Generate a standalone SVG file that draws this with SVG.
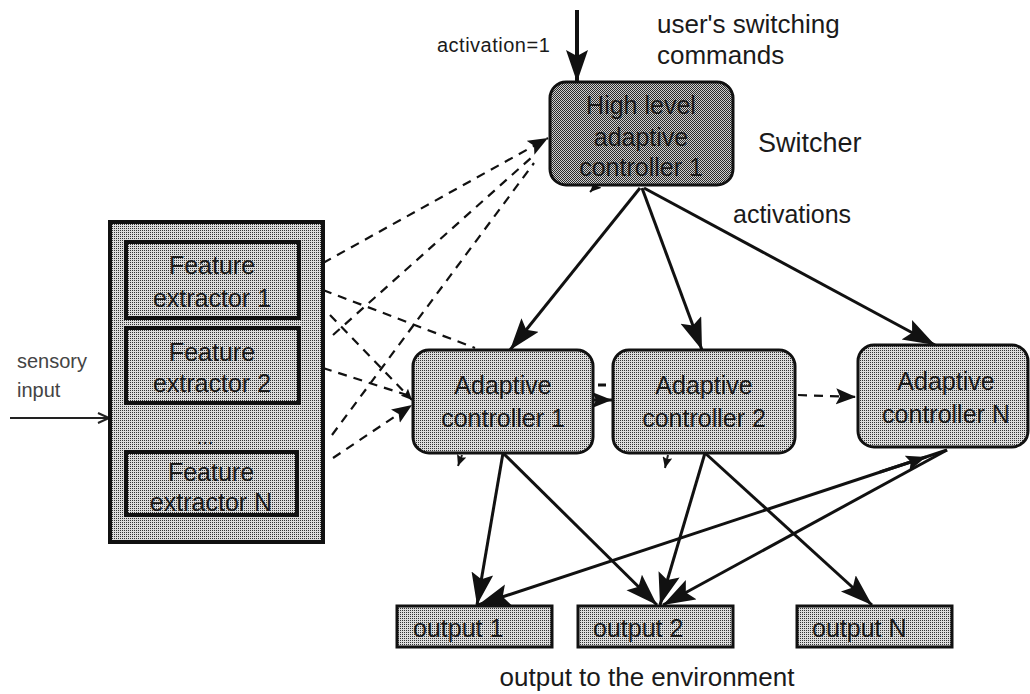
<svg xmlns="http://www.w3.org/2000/svg" width="1030" height="694" viewBox="0 0 1030 694">
<defs>
<style>
text{font-family:"Liberation Sans",Arial,sans-serif;fill:#1a1a1a}
.lbl{font-size:25px;text-anchor:middle}
.box{fill:url(#lt);stroke:#111;stroke-width:3}
.fe{fill:url(#lt);stroke:#111;stroke-width:4}
.solid{fill:none;stroke:#111;stroke-width:3}
.dash{fill:none;stroke:#111;stroke-width:2.2;stroke-dasharray:9 7}
.thin{fill:none;stroke:#222;stroke-width:2}
</style>
<pattern id="lt" width="2" height="2" patternUnits="userSpaceOnUse"><rect width="2" height="2" fill="#dcdcdc"/><rect width="1" height="1" fill="#333"/></pattern>
<pattern id="dk" width="2" height="2" patternUnits="userSpaceOnUse"><rect width="2" height="2" fill="#cfcfcf"/><rect width="1" height="1" fill="#2a2a2a"/><rect x="1" y="1" width="1" height="1" fill="#2a2a2a"/></pattern>
<marker id="big" markerUnits="userSpaceOnUse" markerWidth="34" markerHeight="24" refX="32" refY="11" orient="auto"><path d="M0,0 L32,11 L0,22 L6,11 z" fill="#111"/></marker>
<marker id="mid" markerUnits="userSpaceOnUse" markerWidth="22" markerHeight="18" refX="20" refY="8" orient="auto"><path d="M0,0 L20,8 L0,16 L4,8 z" fill="#111"/></marker>
<marker id="sm" markerUnits="userSpaceOnUse" markerWidth="12" markerHeight="10" refX="11" refY="5" orient="auto"><path d="M0,0 L11,5 L0,10 L2,5 z" fill="#111"/></marker>
<marker id="open" markerUnits="userSpaceOnUse" markerWidth="14" markerHeight="12" refX="12" refY="6" orient="auto"><path d="M1,1 L12,6 L1,11" fill="none" stroke="#222" stroke-width="2"/></marker>
</defs>
<rect width="1030" height="694" fill="#fff"/>

<g id="connectors">
<line x1="577" y1="10" x2="577" y2="82" stroke="#111" stroke-width="4" marker-end="url(#big)"/>
<line x1="10" y1="418" x2="109" y2="418" class="thin" marker-end="url(#open)"/>
<line x1="640" y1="188" x2="510" y2="350" class="solid" marker-end="url(#big)"/>
<line x1="642" y1="188" x2="702" y2="350" class="solid" marker-end="url(#big)"/>
<line x1="644" y1="188" x2="935" y2="345" class="solid" marker-end="url(#big)"/>
<line x1="503" y1="453" x2="477" y2="605" class="solid" marker-end="url(#big)"/>
<line x1="503" y1="453" x2="657" y2="605" class="solid" marker-end="url(#big)"/>
<line x1="705" y1="453" x2="660" y2="605" class="solid" marker-end="url(#big)"/>
<line x1="705" y1="453" x2="872" y2="605" class="solid" marker-end="url(#big)"/>
<line x1="947" y1="450" x2="478" y2="605" class="solid" marker-end="url(#big)"/>
<line x1="947" y1="450" x2="663" y2="605" class="solid" marker-end="url(#big)"/>
<line x1="880" y1="472" x2="926" y2="457" class="solid" marker-end="url(#mid)"/>
<line x1="593" y1="400" x2="612" y2="400" class="solid" marker-end="url(#mid)"/>
<line x1="598" y1="385" x2="606" y2="385" class="solid"/>
<line x1="798" y1="395" x2="856" y2="397" class="dash" marker-end="url(#mid)"/>
<line x1="323" y1="263" x2="548" y2="138" class="dash" marker-end="url(#mid)"/>
<line x1="333" y1="335" x2="532" y2="157" class="dash"/>
<line x1="332" y1="435" x2="534" y2="163" class="dash"/>
<line x1="323" y1="290" x2="475" y2="348" class="dash"/>
<line x1="330" y1="315" x2="412" y2="400" class="dash" marker-end="url(#sm)"/>
<line x1="323" y1="368" x2="410" y2="396" class="dash"/>
<line x1="333" y1="458" x2="412" y2="405" class="dash" marker-end="url(#mid)"/>
<line x1="323" y1="272" x2="301" y2="282" class="thin" marker-end="url(#sm)"/>
<line x1="323" y1="364" x2="301" y2="365" class="thin" marker-end="url(#sm)"/>
<line x1="323" y1="462" x2="300" y2="478" class="thin" marker-end="url(#sm)"/>
<line x1="598" y1="184" x2="590" y2="192" class="thin" marker-end="url(#sm)"/>
<line x1="462" y1="455" x2="458" y2="466" class="thin" marker-end="url(#sm)"/>
<line x1="668" y1="455" x2="665" y2="468" class="thin" marker-end="url(#sm)"/>
</g>

<g id="hl">
<rect x="550" y="82" width="183" height="103" rx="16" fill="url(#dk)" stroke="#111" stroke-width="3"/>
<text class="lbl" x="641" y="114">High level</text>
<text class="lbl" x="641" y="146">adaptive</text>
<text class="lbl" x="641" y="176">controller 1</text>
</g>

<g id="fe-group">
<rect x="110" y="222" width="213" height="320" class="fe"/>
<text x="205" y="444" style="font-size:20px;text-anchor:middle">...</text>
</g>
<g id="fe1">
<rect x="126" y="242" width="173" height="76" class="fe"/>
<text class="lbl" x="212" y="274">Feature</text>
<text class="lbl" x="212" y="307">extractor 1</text>
</g>
<g id="fe2">
<rect x="126" y="328" width="173" height="75" class="fe"/>
<text class="lbl" x="212" y="361">Feature</text>
<text class="lbl" x="212" y="392">extractor 2</text>
</g>
<g id="fen">
<rect x="126" y="452" width="171" height="63" class="fe"/>
<text class="lbl" x="211" y="481">Feature</text>
<text class="lbl" x="211" y="511">extractor N</text>
</g>

<g id="ac1">
<rect x="413" y="350" width="180" height="103" rx="16" class="box"/>
<text class="lbl" x="503" y="394">Adaptive</text>
<text class="lbl" x="503" y="427">controller 1</text>
</g>
<g id="ac2">
<rect x="613" y="350" width="182" height="103" rx="16" class="box"/>
<text class="lbl" x="704" y="394">Adaptive</text>
<text class="lbl" x="704" y="427">controller 2</text>
</g>
<g id="acn">
<rect x="858" y="345" width="170" height="102" rx="16" class="box"/>
<text class="lbl" x="946" y="390">Adaptive</text>
<text class="lbl" x="946" y="423">controller N</text>
</g>

<g id="out1">
<rect x="397" y="606" width="155" height="41" class="box"/>
<text x="413" y="637" style="font-size:25px">output 1</text>
</g>
<g id="out2">
<rect x="578" y="606" width="155" height="41" class="box"/>
<text x="593" y="637" style="font-size:25px">output 2</text>
</g>
<g id="outn">
<rect x="797" y="606" width="155" height="41" class="box"/>
<text x="812" y="637" style="font-size:25px">output N</text>
</g>

<g id="labels">
<text x="437" y="52" style="font-size:20px;letter-spacing:0.5px">activation=1</text>
<text x="657" y="33" style="font-size:26px">user's switching</text>
<text x="657" y="64" style="font-size:26px">commands</text>
<text x="758" y="152" style="font-size:27px">Switcher</text>
<text x="733" y="223" style="font-size:25px">activations</text>
<text x="17" y="368" style="font-size:20px;fill:#444">sensory</text>
<text x="17" y="397" style="font-size:20px;fill:#444">input</text>
<text x="647" y="686" style="font-size:26px;text-anchor:middle">output to the environment</text>
</g>
</svg>
